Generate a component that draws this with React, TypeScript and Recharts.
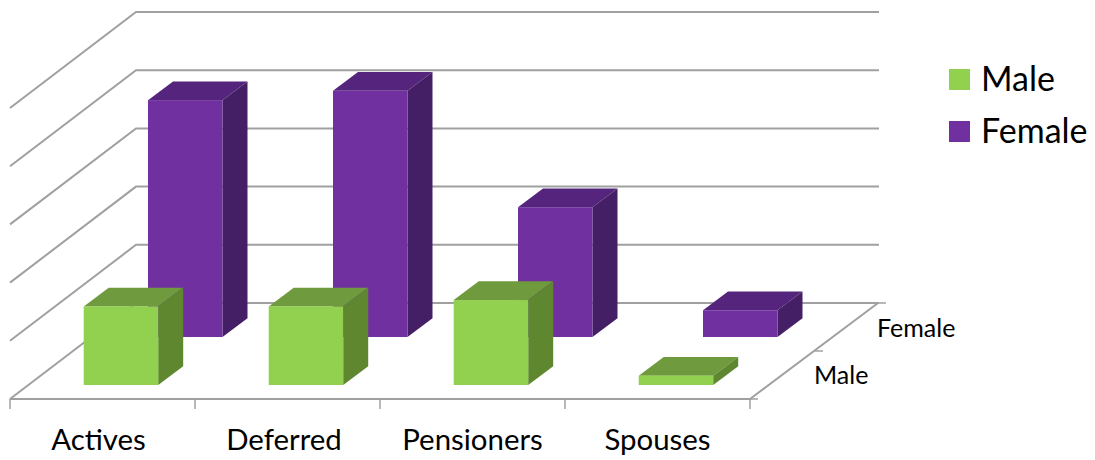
import { BarChart, Bar, XAxis, YAxis, CartesianGrid, Legend } from "recharts";

const categories = ["Actives", "Deferred", "Pensioners", "Spouses"];
const maleValues = [135, 135, 146, 16];
const femaleValues = [407, 423, 223, 46];
const valueTicks = [0, 100, 200, 300, 400, 500];
const depthLabels = ["Male", "Female"];

const data = categories.map((name, i) => ({
  name,
  Male: maleValues[i],
  Female: femaleValues[i],
}));

const FONT = "Lato, Carlito, sans-serif";
const GRID = "#a0a0a0";
const BAND = 185;
const BAR_WIDTH = 74.5;
// depth of one box, and how far back the side wall runs
const BOX_DX = 25;
const BOX_DY = -18.7;
const WALL_DX = 126;
const WALL_DY = -96;
const WALL_RIGHT = 879;
const LABEL_NUDGE = [-4, -3.5, 0, 0];

const MALE_COLORS = { face: "#92d050", top: "#6f9a3d", side: "#5f8730" };
const FEMALE_COLORS = { face: "#7030a0", top: "#55257d", side: "#451f66" };

// extruded box, shifted back along the depth axis by row
const box = (colors, rowDx, rowDy) => (props) => {
  const { x, y, width, height } = props;
  const l = x + rowDx;
  const r = l + width;
  const t = y + rowDy;
  const b = t + height;
  return (
    <g>
      <path
        d={`M${l},${t}L${l + BOX_DX},${t + BOX_DY}L${r + BOX_DX},${t + BOX_DY}L${r},${t}Z`}
        fill={colors.top}
      />
      <path
        d={`M${r},${t}L${r + BOX_DX},${t + BOX_DY}L${r + BOX_DX},${b + BOX_DY}L${r},${b}Z`}
        fill={colors.side}
      />
      <rect x={l} y={t} width={width} height={height} fill={colors.face} />
    </g>
  );
};

// every gridline runs up the side wall, then along the back wall
const wallLine = (props) => {
  const { x1, y1, key } = props;
  const bx = x1 + WALL_DX;
  const by = y1 + WALL_DY;
  const d = `M${x1},${y1}L${bx},${by}L${WALL_RIGHT},${by}`;
  return <path key={key} d={d} fill="none" stroke={GRID} strokeWidth={2} />;
};

const CategoryTick = (props) => {
  const { x, y, payload, index } = props;
  const left = x - BAND / 2;
  return (
    <g>
      <line x1={left} y1={y - 8} x2={left} y2={y + 2} stroke={GRID} strokeWidth={1.5} />
      {index === categories.length - 1 && (
        <line x1={left + BAND} y1={y - 8} x2={left + BAND} y2={y + 2} stroke={GRID} strokeWidth={1.5} />
      )}
      <text
        x={x + LABEL_NUDGE[index]}
        y={y + 42.5}
        textAnchor="middle"
        fontFamily={FONT}
        fontSize={29.4}
        fill="#000"
      >
        {payload.value}
      </text>
    </g>
  );
};

const LegendList = ({ payload }) => (
  <div style={{ fontFamily: FONT, fontSize: 34, color: "#000" }}>
    {[...(payload ?? [])].reverse().map((item) => (
      <div key={item.value} style={{ display: "flex", alignItems: "center", height: 52 }}>
        <span style={{ width: 21, height: 21, marginRight: 11, background: item.color }} />
        <span style={{ position: "relative", top: -2 }}>{item.value}</span>
      </div>
    ))}
  </div>
);

export default function App() {
  return (
    <div style={{ position: "absolute", left: 0, top: 0 }}>
      <BarChart
        width={1095}
        height={460}
        data={data}
        barSize={BAR_WIDTH}
        barGap={-BAR_WIDTH}
        margin={{ top: 108, right: 345, bottom: 0, left: 10 }}
      >
        <CartesianGrid vertical={false} horizontal={wallLine} />
        <XAxis
          dataKey="name"
          height={61}
          interval={0}
          tickLine={false}
          axisLine={{ stroke: GRID, strokeWidth: 2 }}
          tick={CategoryTick}
        />
        <YAxis hide width={0} domain={[0, 500]} ticks={valueTicks} />
        <Legend
          layout="horizontal"
          verticalAlign="middle"
          align="center"
          content={LegendList}
          wrapperStyle={{ left: 949, top: 53, width: 146 }}
        />
        <Bar dataKey="Female" fill={FEMALE_COLORS.face} isAnimationActive={false} shape={box(FEMALE_COLORS, 83, -62)} />
        <Bar dataKey="Male" fill={MALE_COLORS.face} isAnimationActive={false} shape={box(MALE_COLORS, 18.7, -14)} />
        {/* depth axis: its line, tick marks and series names beside the floor */}
        <g stroke={GRID} strokeWidth={2}>
          <line x1={750} y1={399} x2={878} y2={303} />
        </g>
        <g stroke={GRID} strokeWidth={1.5}>
          <line x1={750} y1={399} x2={758} y2={399} />
          <line x1={815} y1={351} x2={823} y2={351} />
          <line x1={878} y1={303} x2={886} y2={303} />
        </g>
        <g fontFamily={FONT} fontSize={25} fill="#000">
          <text x={814} y={384}>{depthLabels[0]}</text>
          <text x={877} y={337}>{depthLabels[1]}</text>
        </g>
      </BarChart>
    </div>
  );
}
